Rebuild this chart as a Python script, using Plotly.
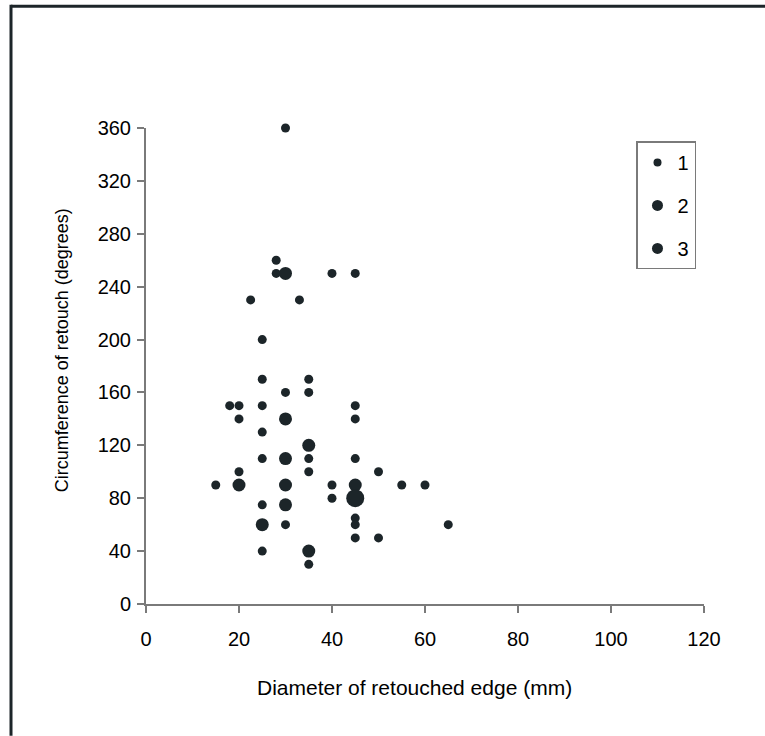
import plotly.graph_objects as go

# Data: (diameter mm, circumference degrees), grouped by count (bubble size class)
x_count1 = [30, 28, 28, 40, 45, 22.5, 33, 25, 25, 35, 30, 35, 18, 20, 25, 45, 20, 45, 25,
            25, 35, 45, 20, 35, 50, 15, 40, 55, 60, 40, 25, 45, 45, 30, 65, 45, 50, 25, 35]
y_count1 = [360, 260, 250, 250, 250, 230, 230, 200, 170, 170, 160, 160, 150, 150, 150, 150, 140, 140, 130,
            110, 110, 110, 100, 100, 100, 90, 90, 90, 90, 80, 75, 65, 60, 60, 60, 50, 50, 40, 30]
x_count2 = [30, 30, 35, 30, 20, 30, 45, 30, 25, 35]
y_count2 = [250, 140, 120, 110, 90, 90, 90, 75, 60, 40]
x_count3 = [45]
y_count3 = [80]

legend_names = ["1", "2", "3"]
x_ticks = [0, 20, 40, 60, 80, 100, 120]
y_ticks = [0, 40, 80, 120, 160, 200, 240, 280, 320, 360]

MARK = "#1c2529"
AXIS = "#7a7a7a"
FONT = "Liberation Sans, Arial, sans-serif"

fig = go.Figure()
groups = [(x_count1, y_count1, 9), (x_count2, y_count2, 13), (x_count3, y_count3, 18)]
leg_sizes = [8, 11, 11]
for i, (xs, ys, s) in enumerate(groups):
    fig.add_trace(go.Scatter(x=xs, y=ys, mode="markers", cliponaxis=False,
                             marker=dict(size=s, color=MARK, line=dict(width=0)),
                             showlegend=False, hoverinfo="x+y"))
for i, name in enumerate(legend_names):
    fig.add_trace(go.Scatter(x=[None], y=[None], mode="markers", name=name,
                             legendgroup=name,
                             marker=dict(size=leg_sizes[i], color=MARK, line=dict(width=0))))

W, H = 765, 736
L, T = 146, 127.5
pw, ph = 558, 476.5
R, B = W - L - pw, H - T - ph

def px2paper_x(p):
    return (p - L) / pw

def px2paper_y(p):
    return (T + ph - p) / ph

fig.update_layout(
    width=W, height=H,
    margin=dict(l=L, r=R, t=T, b=B, pad=0),
    paper_bgcolor="white", plot_bgcolor="white",
    font=dict(family=FONT, size=20, color="black"),
    showlegend=True,
    legend=dict(x=px2paper_x(636), y=px2paper_y(141), xanchor="left", yanchor="top",
                bgcolor="white", bordercolor=AXIS, borderwidth=1.5,
                font=dict(size=20, family=FONT, color="black"),
                tracegroupgap=14, traceorder="grouped"),
    xaxis=dict(range=[0, 120], tickvals=x_ticks, showgrid=False, zeroline=False,
               showline=True, linecolor=AXIS, linewidth=2, ticks="outside",
               ticklen=7, tickwidth=1.5, tickcolor=AXIS, ticklabelstandoff=9,
               tickfont=dict(size=20)),
    yaxis=dict(range=[0, 360], tickvals=y_ticks, showgrid=False, zeroline=False,
               showline=True, linecolor=AXIS, linewidth=2, ticks="outside",
               ticklen=7, tickwidth=1.5, tickcolor=AXIS, ticklabelstandoff=2,
               tickfont=dict(size=20)),
    annotations=[
        dict(text="Diameter of retouched edge (mm)", xref="paper", yref="paper",
             x=px2paper_x(414), y=px2paper_y(688), xanchor="center", yanchor="middle",
             showarrow=False, font=dict(size=21)),
        dict(text="Circumference of retouch (degrees)", xref="paper", yref="paper",
             x=px2paper_x(62), y=px2paper_y(350), xanchor="center", yanchor="middle",
             showarrow=False, textangle=-90, font=dict(size=18)),
    ],
    shapes=[
        dict(type="line", xref="paper", yref="paper",
             x0=px2paper_x(11), x1=px2paper_x(765),
             y0=px2paper_y(5.5), y1=px2paper_y(5.5),
             line=dict(color="#1c2529", width=3), layer="below"),
        dict(type="line", xref="paper", yref="paper",
             x0=px2paper_x(11), x1=px2paper_x(11),
             y0=px2paper_y(4), y1=px2paper_y(736),
             line=dict(color="#1c2529", width=3), layer="below"),
    ],
)

fig.write_html("out.html", config={"displayModeBar": False},
               post_script="document.body.style.margin='0';document.body.style.overflow='hidden';")
